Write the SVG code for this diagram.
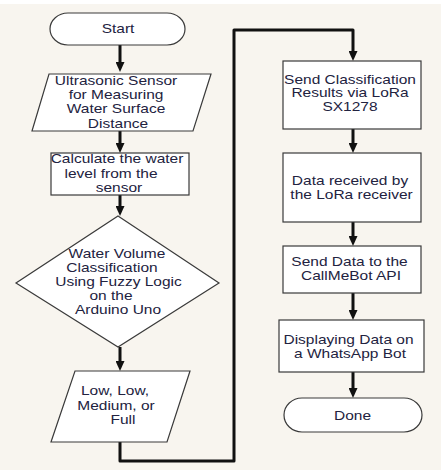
<svg xmlns="http://www.w3.org/2000/svg" width="441" height="470" viewBox="0 0 441 470">
<style>
.shape{fill:#ffffff;stroke:#3a3a3a;stroke-width:1.2}
.conn{fill:none;stroke:#111111;stroke-width:3;stroke-linejoin:round}
.t{font-family:"Liberation Sans",Arial,sans-serif;font-size:12.5px;fill:#222240;text-anchor:middle}
</style>
<defs>
<marker id="ah" viewBox="0 0 10 9" refX="4" refY="4.5" markerWidth="10" markerHeight="9" markerUnits="userSpaceOnUse" orient="auto">
<path d="M0,0 L10,4.5 L0,9 z" fill="#111111"/>
</marker>
</defs>
<rect x="0" y="0" width="441" height="470" fill="#f8f5ef"/>
<rect x="0" y="0" width="441" height="4" fill="#ffffff"/>

<g id="connectors">
<path class="conn" d="M120,45 V66" marker-end="url(#ah)"/>
<path class="conn" d="M120,131 V147" marker-end="url(#ah)"/>
<path class="conn" d="M120,195 V210" marker-end="url(#ah)"/>
<path class="conn" d="M120,347 V365" marker-end="url(#ah)"/>
<path class="conn" d="M120,442 V461 H234 V30 H353 V55" marker-end="url(#ah)"/>
<path class="conn" d="M353,129 V147" marker-end="url(#ah)"/>
<path class="conn" d="M353,222 V240" marker-end="url(#ah)"/>
<path class="conn" d="M353,293 V314" marker-end="url(#ah)"/>
<path class="conn" d="M353,372 V392" marker-end="url(#ah)"/>
</g>

<g id="start">
<rect class="shape" x="50" y="13" width="135" height="32" rx="18" ry="16"/>
<text class="t" transform="translate(118,33) scale(1.24,1)">Start</text>
</g>

<g id="sensor">
<polygon class="shape" points="49,74 211,74 193,131 32,131"/>
<text class="t" transform="translate(116,84.5) scale(1.24,1)">Ultrasonic Sensor</text>
<text class="t" transform="translate(116,98.5) scale(1.24,1)">for Measuring</text>
<text class="t" transform="translate(116,113) scale(1.24,1)">Water Surface</text>
<text class="t" transform="translate(118,127.5) scale(1.24,1)">Distance</text>
</g>

<g id="calculate">
<rect class="shape" x="51" y="153" width="138" height="42"/>
<text class="t" transform="translate(117,163) scale(1.24,1)">Calculate the water</text>
<text class="t" transform="translate(111,177.5) scale(1.24,1)">level from the</text>
<text class="t" transform="translate(119,191.5) scale(1.24,1)">sensor</text>
</g>

<g id="classify">
<polygon class="shape" points="118,216 219,283 118,347 16,283"/>
<text class="t" transform="translate(117,257.5) scale(1.24,1)">Water Volume</text>
<text class="t" transform="translate(112,272) scale(1.24,1)">Classification</text>
<text class="t" transform="translate(118.5,286) scale(1.24,1)">Using Fuzzy Logic</text>
<text class="t" transform="translate(111,300) scale(1.24,1)">on the</text>
<text class="t" transform="translate(118,314) scale(1.24,1)">Arduino Uno</text>
</g>

<g id="result">
<polygon class="shape" points="75,371 190,371 167,442 51,442"/>
<text class="t" transform="translate(115,395) scale(1.24,1)">Low, Low,</text>
<text class="t" transform="translate(116,409.5) scale(1.24,1)">Medium, or</text>
<text class="t" transform="translate(123,424) scale(1.24,1)">Full</text>
</g>

<g id="send-lora">
<rect class="shape" x="283" y="61" width="138" height="68"/>
<text class="t" transform="translate(350,83.5) scale(1.24,1)">Send Classification</text>
<text class="t" transform="translate(350,97) scale(1.24,1)">Results via LoRa</text>
<text class="t" transform="translate(350,111) scale(1.24,1)">SX1278</text>
</g>

<g id="receive">
<rect class="shape" x="283" y="153" width="138" height="69"/>
<text class="t" transform="translate(350,185) scale(1.24,1)">Data received by</text>
<text class="t" transform="translate(351.5,199) scale(1.24,1)">the LoRa receiver</text>
</g>

<g id="callmebot">
<rect class="shape" x="283" y="246" width="138" height="47"/>
<text class="t" transform="translate(349.5,266) scale(1.24,1)">Send Data to the</text>
<text class="t" transform="translate(351,280) scale(1.24,1)">CallMeBot API</text>
</g>

<g id="whatsapp">
<rect class="shape" x="279" y="320" width="145" height="52"/>
<text class="t" transform="translate(348.5,343.5) scale(1.24,1)">Displaying Data on</text>
<text class="t" transform="translate(350,357.5) scale(1.24,1)">a WhatsApp Bot</text>
</g>

<g id="done">
<rect class="shape" x="284" y="398" width="138" height="34" rx="18" ry="17"/>
<text class="t" transform="translate(352.5,419.5) scale(1.24,1)">Done</text>
</g>
</svg>
